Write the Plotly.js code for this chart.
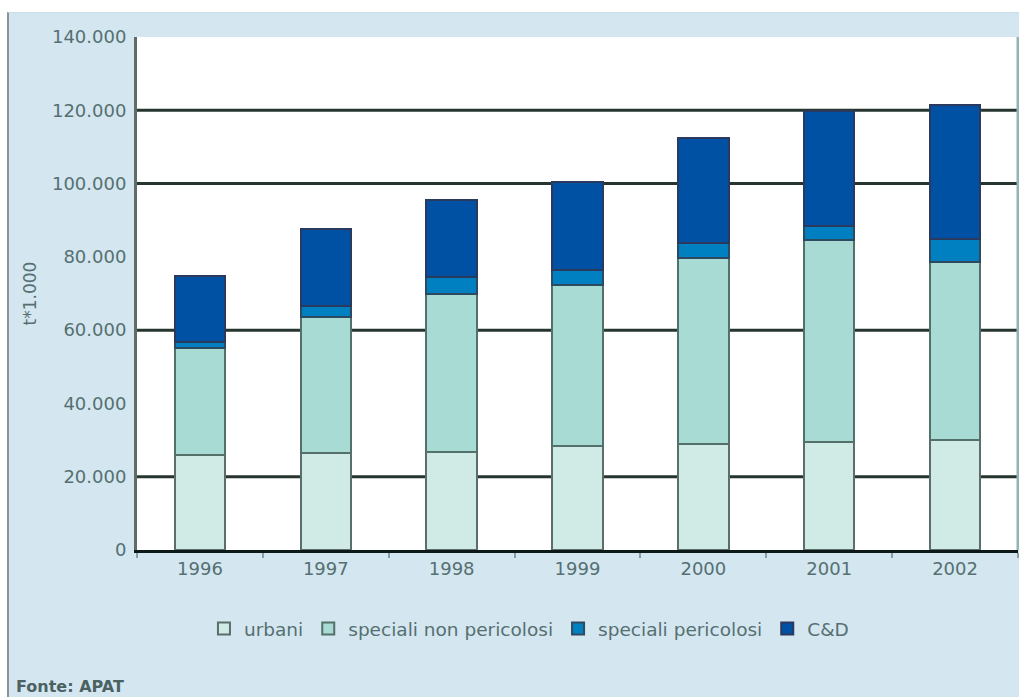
<!DOCTYPE html>
<html>
<head>
<meta charset="utf-8">
<script src="https://cdn.plot.ly/plotly-3.0.1.min.js"></script>
<style>
html,body{margin:0;padding:0;background:#ffffff;width:1019px;height:697px;overflow:hidden;}
#frame{position:absolute;left:7px;top:12px;width:1012px;height:685px;background:#d4e6f0;border-left:2px solid #8a9494;border-top:1px solid #c8dde8;}
#chart{position:absolute;left:0;top:0;width:1012px;height:685px;}
</style>
</head>
<body>
<div id="frame"><div id="chart"></div></div>
<script>
const years = ["1996","1997","1998","1999","2000","2001","2002"];
const urbani = [25800, 26600, 26800, 28400, 28900, 29400, 30000];
const specialiNonPericolosi = [29400, 37100, 43200, 43800, 50900, 55100, 48500];
const specialiPericolosi = [1500, 3000, 4600, 4100, 3900, 3800, 6500];
const cd = [18000, 20800, 20800, 24100, 28700, 31500, 36400];
const yTickVals = [0, 20000, 40000, 60000, 80000, 100000, 120000, 140000];
const yTickText = ["0", "20.000", "40.000", "60.000", "80.000", "100.000", "120.000", "140.000"];
const gridVals = [20000, 60000, 100000, 120000];
const seriesNames = ["urbani", "speciali non pericolosi", "speciali pericolosi", "C&D"];

const colors = ["#d0ebe6", "#a8dbd3", "#0080c0", "#0050a4"];
const lineColors = ["#5c6e6c", "#53706b", "#2e4a60", "#2a3a5e"];
const series = [urbani, specialiNonPericolosi, specialiPericolosi, cd];

const traces = series.map((vals, i) => ({
  type: "bar",
  name: seriesNames[i],
  x: years,
  y: vals,
  marker: {color: colors[i], line: {color: lineColors[i], width: 2}},
  hoverinfo: "x+y+name"
}));

const shapes = gridVals.map(v => ({
  type: "line", xref: "paper", yref: "y", x0: 0, x1: 1, y0: v, y1: v,
  line: {color: "#27352f", width: 3}, layer: "below"
}));
shapes.push({type: "line", xref: "paper", yref: "paper", x0: 1, x1: 1, y0: 0, y1: 1,
  line: {color: "#8fb5b5", width: 3}});

const txt = "#557070";
const layout = {
  width: 1012, height: 685,
  paper_bgcolor: "#d4e6f0",
  plot_bgcolor: "#ffffff",
  margin: {l: 128, r: 3, t: 24, b: 148},
  barmode: "stack",
  bargap: 0.6,
  showlegend: true,
  font: {family: "DejaVu Sans, sans-serif", size: 18, color: txt},
  xaxis: {
    type: "category",
    showgrid: false,
    showline: true, linecolor: "#0e1a18", linewidth: 3,
    ticks: "outside", tickson: "boundaries", ticklen: 5, tickcolor: "#8aa0a0", tickwidth: 2,
    tickfont: {size: 18, color: txt}
  },
  yaxis: {
    range: [0, 140000],
    tickvals: yTickVals, ticktext: yTickText,
    showgrid: false, zeroline: false,
    showline: true, linecolor: "#606a6a", linewidth: 3,
    ticks: "", ticklen: 0, ticklabelstandoff: 4,
    tickfont: {size: 18, color: txt},
    title: {text: "t*1.000", font: {size: 17, color: txt}, standoff: 12}
  },
  legend: {
    orientation: "h", x: 0.076, y: -0.117, xanchor: "left", yanchor: "top",
    bgcolor: "rgba(0,0,0,0)", font: {size: 18.5, color: txt},
    itemwidth: 30, tracegroupgap: 0, traceorder: "normal"
  },
  shapes: shapes,
  annotations: [{
    text: "<b>Fonte: APAT</b>", xref: "paper", yref: "paper",
    x: -0.1396, y: -0.267, xanchor: "left", yanchor: "middle",
    showarrow: false, font: {size: 16, color: "#4a6262"}
  }]
};

Plotly.newPlot("chart", traces, layout, {displayModeBar: false, staticPlot: true});
</script>
</body>
</html>
